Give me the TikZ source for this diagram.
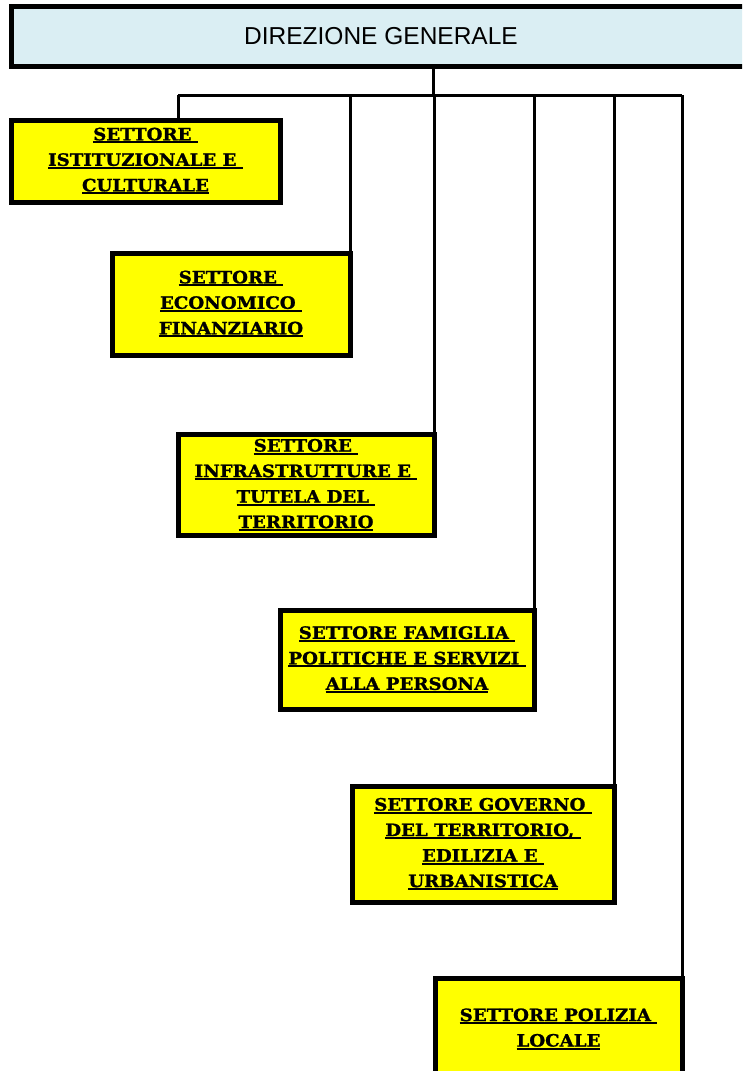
\documentclass[tikz,border=0pt]{standalone}
\usepackage{fontspec}
\setmainfont{Liberation Sans}
\newfontfamily\boxfont[FakeStretch=1.07,FakeBold=1.3]{DejaVu Serif}
\usetikzlibrary{calc}
\definecolor{giallo}{HTML}{FFFF00}
\definecolor{celeste}{HTML}{DAEEF3}
\newcommand{\uln}[1]{\setbox0\hbox{#1}\rlap{\rule[-3pt]{\wd0}{2pt}}\box0}

\begin{document}
\begin{tikzpicture}[x=1pt,y=-1pt,
  settorebox/.style={draw,line width=5pt,fill=giallo,inner sep=0pt,outer sep=0pt,
    align=center,font=\boxfont\bfseries\fontsize{17}{25.5}\selectfont},
  link/.style={line width=3pt}]
\useasboundingbox (0,0) rectangle (742,1071);
\clip (0,0) rectangle (742,1071);

\node[draw,line width=5pt,fill=celeste,minimum width=740pt,minimum height=60pt,
      inner sep=0pt,outer sep=0pt,font=\fontsize{24.5}{28}\selectfont]
      (dg) at (381,36) {DIREZIONE GENERALE};

\node[settorebox,minimum width=269pt,minimum height=82pt] (s1) at (145.5,161)
  {\uln{SETTORE\ }\\\uln{ISTITUZIONALE E\ }\\\uln{CULTURALE}};
\node[settorebox,minimum width=238pt,minimum height=102pt] (s2) at (231,304)
  {\uln{SETTORE\ }\\\uln{ECONOMICO\ }\\\uln{FINANZIARIO}};
\node[settorebox,minimum width=256pt,minimum height=101pt] (s3) at (306,485)
  {\uln{SETTORE\ }\\\uln{INFRASTRUTTURE E\ }\\\uln{TUTELA DEL\ }\\\uln{TERRITORIO}};
\node[settorebox,minimum width=254pt,minimum height=99pt] (s4) at (407,659.5)
  {\uln{SETTORE FAMIGLIA\ }\\\uln{POLITICHE E SERVIZI\ }\\\uln{ALLA PERSONA}};
\node[settorebox,minimum width=262pt,minimum height=116pt] (s5) at (483,844)
  {\uln{SETTORE GOVERNO\ }\\\uln{DEL TERRITORIO,\ }\\\uln{EDILIZIA E\ }\\\uln{URBANISTICA}};
\node[settorebox,minimum width=247pt,minimum height=102pt] (s6) at (558.5,1029)
  {\uln{SETTORE POLIZIA\ }\\\uln{LOCALE}};

% collegamenti
\coordinate (bus)  at (178,95);
\coordinate (fork) at (433,95);
\draw[link] (fork) -- (fork |- dg.south);
\draw[link] (bus) -- (bus -| s6.north east);
\draw[link] (bus) -- (bus |- s1.north);
\foreach \b in {s2,s3,s4,s5,s6}
    \draw[link] (bus -| \b.north east) -- (\b.north east);
\end{tikzpicture}
\end{document}
